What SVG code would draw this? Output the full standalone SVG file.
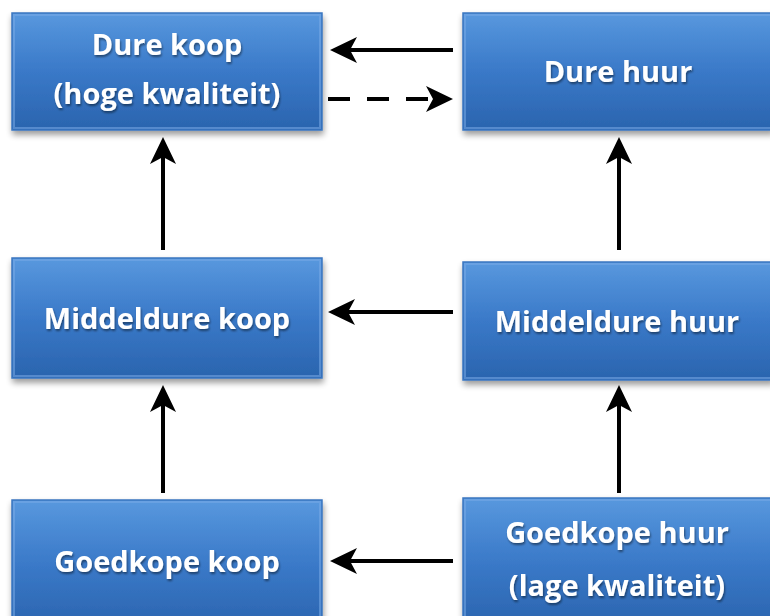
<svg xmlns="http://www.w3.org/2000/svg" width="770" height="616" viewBox="0 0 770 616">
<style>
.box{fill:url(#g);stroke:#3a76c0;stroke-width:1.5}
.bev{fill:none;stroke:#78aae6;stroke-width:2;opacity:.55}
.t{font-family:"Open Sans","Liberation Sans",sans-serif;font-weight:bold;font-size:29px;fill:#ffffff;text-anchor:middle;filter:url(#ts)}
.c{stroke:#000;stroke-width:4;fill:none}
</style>
<defs>
<linearGradient id="g" x1="0" y1="0" x2="0" y2="1">
<stop offset="0" stop-color="#5898de"/>
<stop offset="0.5" stop-color="#3a79c8"/>
<stop offset="1" stop-color="#2a64ae"/>
</linearGradient>
<filter id="sh" x="-10%" y="-10%" width="130%" height="140%">
<feGaussianBlur in="SourceAlpha" stdDeviation="3"/>
<feOffset dx="1" dy="4"/>
<feComponentTransfer><feFuncA type="linear" slope="0.4"/></feComponentTransfer>
<feMerge><feMergeNode/><feMergeNode in="SourceGraphic"/></feMerge>
</filter>
<filter id="ts" x="-10%" y="-20%" width="120%" height="150%">
<feGaussianBlur in="SourceAlpha" stdDeviation="1"/>
<feOffset dx="1" dy="1.5"/>
<feComponentTransfer><feFuncA type="linear" slope="0.45"/></feComponentTransfer>
<feMerge><feMergeNode/><feMergeNode in="SourceGraphic"/></feMerge>
</filter>
<marker id="ah" markerWidth="50" markerHeight="32" viewBox="-30 -16 50 32" refX="-18" refY="0" orient="auto" markerUnits="userSpaceOnUse">
<path d="M0,0 L-27,-13 L-20,0 L-27,13 Z" fill="#000"/>
</marker>
</defs>
<rect width="770" height="616" fill="#ffffff"/>
<g id="dure-koop" filter="url(#sh)">
<rect class="box" x="12" y="13" width="310" height="117"/>
<rect class="bev" x="14" y="15" width="306" height="113"/>
<text class="t" x="167" y="55">Dure koop</text>
<text class="t" x="167" y="104">(hoge kwaliteit)</text>
</g>
<g id="dure-huur" filter="url(#sh)">
<rect class="box" x="463" y="13" width="310" height="117"/>
<rect class="bev" x="465" y="15" width="306" height="113"/>
<text class="t" x="618" y="82">Dure huur</text>
</g>
<g id="middeldure-koop" filter="url(#sh)">
<rect class="box" x="12" y="258" width="310" height="120"/>
<rect class="bev" x="14" y="260" width="306" height="116"/>
<text class="t" x="167" y="329">Middeldure koop</text>
</g>
<g id="middeldure-huur" filter="url(#sh)">
<rect class="box" x="463" y="262" width="310" height="118"/>
<rect class="bev" x="465" y="264" width="306" height="114"/>
<text class="t" x="617" y="332">Middeldure huur</text>
</g>
<g id="goedkope-koop" filter="url(#sh)">
<rect class="box" x="12" y="500" width="310" height="130"/>
<rect class="bev" x="14" y="502" width="306" height="126"/>
<text class="t" x="167" y="572">Goedkope koop</text>
</g>
<g id="goedkope-huur" filter="url(#sh)">
<rect class="box" x="463" y="498" width="310" height="130"/>
<rect class="bev" x="465" y="500" width="306" height="126"/>
<text class="t" x="617" y="543">Goedkope huur</text>
<text class="t" x="617" y="596">(lage kwaliteit)</text>
</g>
<g id="connectors">
<path class="c" d="M453,50 L348,50" marker-end="url(#ah)"/>
<path class="c" d="M328,99 L435,99" stroke-dasharray="22,17" marker-end="url(#ah)"/>
<path class="c" d="M163,250 L163,155" marker-end="url(#ah)"/>
<path class="c" d="M619,250 L619,155" marker-end="url(#ah)"/>
<path class="c" d="M163,493 L163,403" marker-end="url(#ah)"/>
<path class="c" d="M619,493 L619,403" marker-end="url(#ah)"/>
<path class="c" d="M453,312 L346,312" marker-end="url(#ah)"/>
<path class="c" d="M453,561 L348,561" marker-end="url(#ah)"/>
</g>
</svg>
